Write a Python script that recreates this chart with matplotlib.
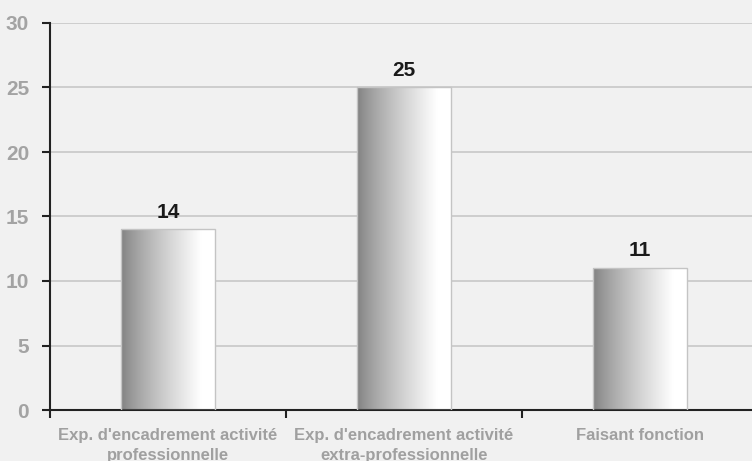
import matplotlib
matplotlib.use('Agg')
import matplotlib.pyplot as plt
import numpy as np

# Data
categories = ["Exp. d'encadrement activité\nprofessionnelle",
              "Exp. d'encadrement activité\nextra-professionnelle",
              "Faisant fonction"]
values = [14, 25, 11]
yticks = [0, 5, 10, 15, 20, 25, 30]

plt.rcParams['font.family'] = ['Liberation Sans', 'DejaVu Sans']

fig = plt.figure(figsize=(7.52, 4.61), dpi=100)
fig.patch.set_facecolor('#f1f1f1')
# axes run past the right edge, like in the original slide
ax = fig.add_axes([50/752, 51/461, 708/752, 387/461])
ax.set_facecolor('none')

x = np.arange(len(values))
bars = ax.bar(x, values, width=0.4, color='none', edgecolor='#c4c4c4', linewidth=1, zorder=3)

# gray-to-white gradient in each bar
t = np.linspace(0, 1, 256)
grad = 0.5 + 0.5 * np.clip(t / 0.85, 0, 1) ** 0.8
grad = grad.reshape(1, -1)
for b in bars:
    bx, by = b.get_x(), b.get_y()
    im = ax.imshow(grad, cmap='gray', vmin=0, vmax=1, aspect='auto',
                   extent=[bx, bx + b.get_width(), by, by + b.get_height()], zorder=2)
    im.set_clip_path(b)

for xi, v in zip(x, values):
    ax.text(xi, v + 0.6, str(v), ha='center', va='bottom', fontsize=15,
            fontweight='bold', color='#1a1a1a')

ax.set_xlim(-0.5, 2.5)
ax.set_ylim(0, 30)
ax.set_yticks(yticks)
ax.yaxis.grid(True, color='#c8c8c8', linewidth=1.2, zorder=1)
ax.set_axisbelow(True)

# ticks at category boundaries, labels in the middle
ax.set_xticks([-0.5, 0.5, 1.5, 2.5])
ax.set_xticklabels([])
ax.set_xticks(x, minor=True)
ax.set_xticklabels(categories, minor=True, fontsize=12, fontweight='bold',
                   color='#a0a0a0', linespacing=1.45)
ax.tick_params(axis='x', which='minor', length=0, pad=13)
ax.tick_params(axis='x', which='major', length=6, width=1.5, direction='out', color='#222222')
ax.tick_params(axis='y', length=6, width=1.5, color='#222222', labelsize=15,
               labelcolor='#a3a3a3', pad=9)
for lbl in ax.get_yticklabels():
    lbl.set_fontweight('bold')

for s in ['top', 'right']:
    ax.spines[s].set_visible(False)
for s in ['left', 'bottom']:
    ax.spines[s].set_linewidth(1.5)
    ax.spines[s].set_color('#222222')

fig.savefig('out.png', dpi=100, facecolor=fig.get_facecolor())
